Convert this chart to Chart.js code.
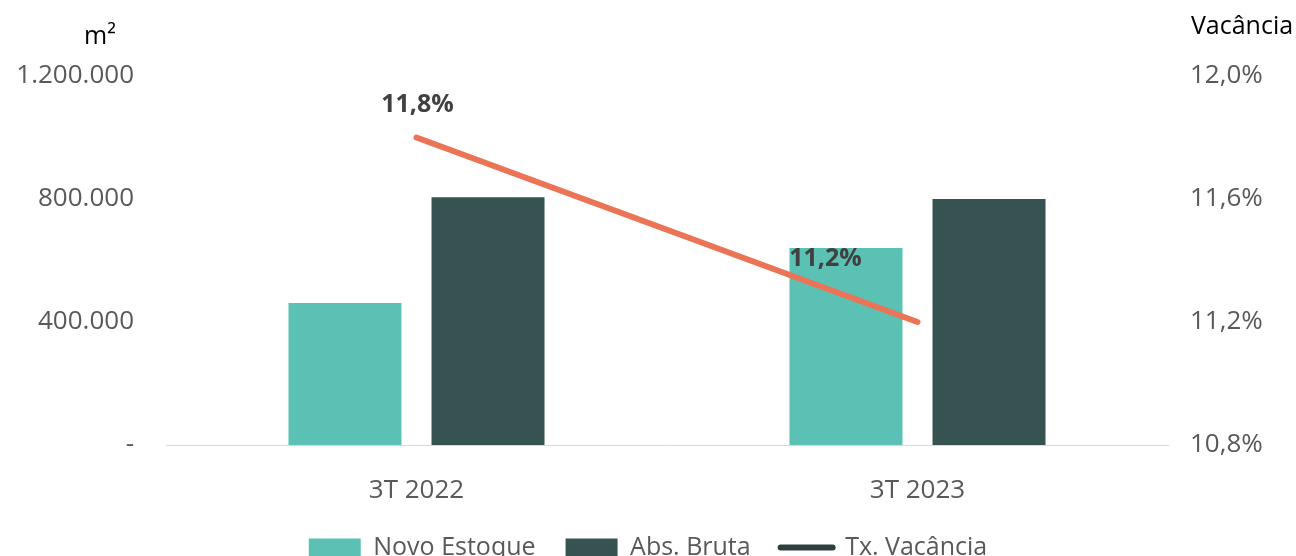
<!DOCTYPE html>
<html>
<head>
<meta charset="utf-8">
<script src="https://cdn.jsdelivr.net/npm/chart.js@4"></script>
<style>
    html, body { margin: 0; padding: 0; background: #ffffff; overflow: hidden; }
    #wrap { position: relative; width: 1296px; height: 570px; }
</style>
</head>
<body>
<div id="wrap"><canvas id="chart"></canvas></div>
<script>
// Chart data
const categories = ['3T 2022', '3T 2023'];
const novoEstoque = [462000, 641000];
const absBruta = [806000, 800000];
const txVacancia = [11.8, 11.2];
const leftTicks = [0, 400000, 800000, 1200000];
const rightTicks = [10.8, 11.2, 11.6, 12.0];

const TEAL = '#5bc1b4';
const DARK = '#375351';
const ORANGE = '#ec7456';
const FONT = "'Open Sans', 'Noto Sans', sans-serif";

function fmtThousands(v) {
    if (v === 0) return '-';
    return String(Math.round(v)).replace(/\B(?=(\d{3})+(?!\d))/g, '.');
}
function fmtPct(v) {
    return v.toFixed(1).replace('.', ',') + '%';
}

// Draws axis headers and the line's value labels
const extrasPlugin = {
    id: 'extras',
    afterDatasetsDraw(chart) {
        const ctx = chart.ctx;
        ctx.save();
        ctx.fillStyle = '#000000';
        ctx.font = '25px ' + FONT;
        ctx.textAlign = 'center';
        ctx.textBaseline = 'middle';
        ctx.fillText('m²', 100, 37);
        ctx.fillText('Vacância', 1242, 27);

        // line value labels
        const meta = chart.getDatasetMeta(2);
        const offsets = [[1, -33], [-92, -63]];
        ctx.font = 'bold 25px ' + FONT;
        ctx.fillStyle = '#404040';
        meta.data.forEach((pt, i) => {
            ctx.fillText(fmtPct(txVacancia[i]), pt.x + offsets[i][0], pt.y + offsets[i][1]);
        });
        ctx.restore();
    }
};

const ctx = document.getElementById('chart');
new Chart(ctx, {
    data: {
        labels: categories,
        datasets: [
            {
                type: 'bar',
                label: 'Novo Estoque',
                data: novoEstoque,
                backgroundColor: TEAL,
                yAxisID: 'y',
                order: 2,
                categoryPercentage: 0.571,
                barPercentage: 0.79
            },
            {
                type: 'bar',
                label: 'Abs. Bruta',
                data: absBruta,
                backgroundColor: DARK,
                yAxisID: 'y',
                order: 2,
                categoryPercentage: 0.571,
                barPercentage: 0.79
            },
            {
                type: 'line',
                label: 'Tx. Vacância',
                data: txVacancia,
                borderColor: ORANGE,
                borderWidth: 6,
                borderCapStyle: 'round',
                pointRadius: 0,
                yAxisID: 'y1',
                order: 0
            }
        ]
    },
    options: {
        responsive: true,
        maintainAspectRatio: false,
        animation: false,
        layout: { padding: { top: 76, left: 0, right: 0, bottom: 0 } },
        plugins: {
            tooltip: { enabled: false },
            legend: {
                position: 'bottom',
                labels: {
                    usePointStyle: true,
                    pointStyleWidth: 52,
                    boxHeight: 18,
                    padding: 30,
                    color: '#595959',
                    font: { family: FONT, size: 25 },
                    generateLabels() {
                        return [
                            { text: 'Novo Estoque', fillStyle: TEAL, strokeStyle: TEAL, lineWidth: 0, pointStyle: 'rect', fontColor: '#595959', datasetIndex: 0 },
                            { text: 'Abs. Bruta', fillStyle: DARK, strokeStyle: DARK, lineWidth: 0, pointStyle: 'rect', fontColor: '#595959', datasetIndex: 1 },
                            { text: 'Tx. Vacância', fillStyle: '#2f3f3e', strokeStyle: '#2f3f3e', lineWidth: 6, lineCap: 'round', pointStyle: 'line', fontColor: '#595959', datasetIndex: 2 }
                        ];
                    }
                }
            }
        },
        scales: {
            x: {
                grid: { display: false },
                border: { display: true, color: '#d9d9d9', width: 1 },
                afterFit(scale) { scale.height = 60; },
                ticks: { color: '#595959', font: { family: FONT, size: 26 }, padding: 22 }
            },
            y: {
                position: 'left',
                min: 0,
                max: 1200000,
                grid: { display: false },
                border: { display: false },
                afterFit(scale) { scale.width = 166; },
                afterBuildTicks(scale) { scale.ticks = leftTicks.map(v => ({ value: v })); },
                ticks: {
                    color: '#595959',
                    padding: 24,
                    font: { family: FONT, size: 26 },
                    callback: v => fmtThousands(v)
                }
            },
            y1: {
                position: 'right',
                min: 10.8,
                max: 12.0,
                grid: { display: false },
                border: { display: false },
                afterFit(scale) { scale.width = 128; },
                afterBuildTicks(scale) { scale.ticks = rightTicks.map(v => ({ value: v })); },
                ticks: {
                    color: '#595959',
                    padding: 14,
                    font: { family: FONT, size: 26 },
                    callback: v => fmtPct(v)
                }
            }
        }
    },
    plugins: [extrasPlugin]
});
</script>
</body>
</html>
